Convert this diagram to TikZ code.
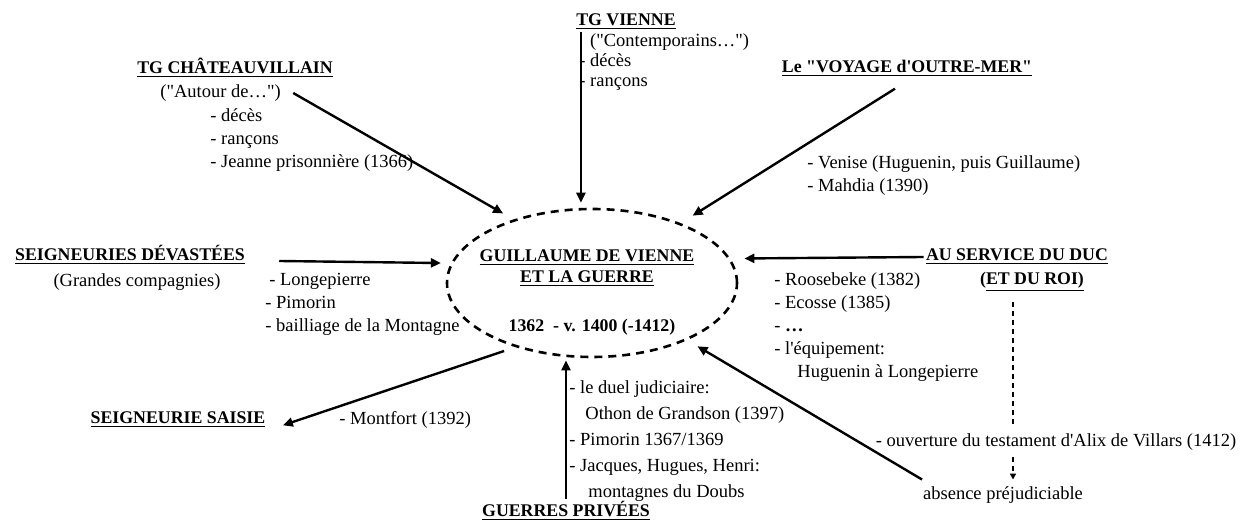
\documentclass[tikz,border=0pt]{standalone}
\usepackage{fontspec}
\setmainfont{Liberation Serif}[Ligatures=TeXOff]
\usetikzlibrary{arrows.meta, positioning, calc, shapes.geometric}
\tikzset{
  head/.style = {font=\fontsize{8.9}{10.5}\selectfont\bfseries, inner sep=1pt},
  item/.style = {align=left, anchor=west, inner sep=1pt},
  link/.style = {-{Triangle[length=5pt, width=4.5pt]}, line width=1.2pt},
  hint/.style = {dash pattern=on 2.5pt off 2pt, line width=0.8pt},
  ring/.style = {ellipse, draw, line width=1.3pt, dash pattern=on 4pt off 3pt,
                 minimum width=145pt, minimum height=74pt}
}

\begin{document}
\begin{tikzpicture}[x=0.5pt, y=-0.5pt, font=\fontsize{9.25}{11.5}\selectfont]
\useasboundingbox (0,0) rectangle (1249,522);

% ── Centre ──────────────────────────────────────────────────────────────────
\node[ring] (ell) at (592,283) {};
\node[head, align=center] (gtitle) at (587,268)
  {\underline{GUILLAUME DE VIENNE}\\\underline{ET LA GUERRE}};
\node[head] (gdate) at (592,327) {1362\ \ - v. 1400 (-1412)};

% ── TG Châteauvillain ───────────────────────────────────────────────────────
\node[head] (chat) at (235,68) {\underline{TG CHÂTEAUVILLAIN}};
\node[item] (chatsrc) at (158,93) {("Autour de…")};
\node[item] (chatlist) at (208,140) {- décès\\- rançons\\- Jeanne prisonnière (1366)};

% ── TG Vienne ───────────────────────────────────────────────────────────────
\node[head] (vien) at (626,22) {\underline{TG VIENNE}};
\node[item, font=\fontsize{9.25}{10}\selectfont] (vienlist) at (577,62)
  {\hphantom{- }("Contemporains…")\\- décès\\- rançons};
\coordinate (vientop) at ([xshift=3.5pt]vien.south west);

% ── Voyage d'outre-mer ──────────────────────────────────────────────────────
\node[head] (voy) at (907,68) {\underline{Le "VOYAGE d'OUTRE-MER"}};
\node[item] (voylist) at (805,176) {- Venise (Huguenin, puis Guillaume)\\- Mahdia (1390)};

% ── Seigneuries dévastées ───────────────────────────────────────────────────
\node[head] (dev) at (130,255) {\underline{SEIGNEURIES DÉVASTÉES}};
\node (devsrc) at (137,282) {(Grandes compagnies)};
\node[item] (devlist) at (263,304)
  {\hspace*{2pt}- Longepierre\\- Pimorin\\- bailliage de la Montagne};

% ── Au service du duc ───────────────────────────────────────────────────────
\node[head] (duc) at (1017,257) {\underline{AU SERVICE DU DUC}};
\node[head] (roi) at (1032,282) {(\underline{ET DU ROI)}};
\node[item] (duclist) at (772,327)
  {- Roosebeke (1382)\\- Ecosse (1385)\\- \textbf{…}\\- l'équipement:\\\hspace*{11.5pt}Huguenin à Longepierre};
\coordinate (ducdown) at (1013,302);
\node (testam) at (1056,442) {- ouverture du testament d'Alix de Villars (1412)};
\node (absn) at (1003,495) {absence préjudiciable};

% ── Seigneurie saisie ───────────────────────────────────────────────────────
\node[head] (saisie) at (178,420) {\underline{SEIGNEURIE SAISIE}};
\node[item] (saisielist) at (337,420) {- Montfort (1392)};

% ── Guerres privées ─────────────────────────────────────────────────────────
\node[head] (priv) at (566,511) {\underline{GUERRES PRIVÉES}};
\node[item, font=\fontsize{9.25}{13}\selectfont] (privlist) at (567,441)
  {- le duel judiciaire:\\\hspace*{8pt}Othon de Grandson (1397)\\- Pimorin 1367/1369\\- Jacques, Hugues, Henri:\\\hspace*{9.5pt}montagnes du Doubs};

% ── Arrows ──────────────────────────────────────────────────────────────────
\draw[link, shorten >=6pt] ([xshift=5pt]chatsrc.east) -- (ell.141);
\draw[link, shorten >=2.5pt] (vientop) -- (vientop |- ell.north);
\draw[link, shorten >=7pt] ([xshift=-6pt, yshift=-5pt]voy.south) -- (ell.34);
\draw[link, shorten >=5pt] ([xshift=16pt, yshift=-3pt]dev.east) -- (ell.172);
\draw[link, shorten >=7pt] (duc.west) -- (ell.10);
\draw[link, shorten >=6pt] ([xshift=3pt]absn.north west) -- (ell.-31);
\draw[link, shorten <=6pt, shorten >=8pt] (ell.-140) -- (saisie.south east);
\draw[link, shorten >=1pt] (priv.north) -- (priv.north |- ell.south);

% ── Dashed link: duc → absence ──────────────────────────────────────────────
\draw[hint] (ducdown) -- (ducdown |- testam.north);
\draw[hint, -{Triangle[length=3pt, width=3pt]}] (ducdown |- testam.south) -- (ducdown |- absn.north);

\end{tikzpicture}
\end{document}
